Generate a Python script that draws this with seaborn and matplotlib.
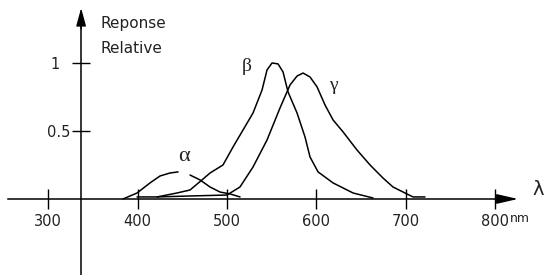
import numpy as np
import pandas as pd
import seaborn as sns
import matplotlib
matplotlib.use("Agg")
import matplotlib.pyplot as plt

# ---- data ----
alpha_lam_a = [383.6, 399.3, 413.8, 425.0, 436.2, 445.2]
alpha_val_a = [0.0, 0.044, 0.118, 0.169, 0.191, 0.199]
alpha_lam_b = [458.6, 469.8, 481.0, 492.2, 503.4, 514.6]
alpha_val_b = [0.176, 0.140, 0.088, 0.051, 0.037, 0.015]

beta_lam = [399.3, 421.7, 444.0, 458.6, 472.0, 481.0, 495.5, 506.7, 517.9, 529.1,
            539.2, 544.8, 550.4, 557.1, 562.7, 568.3, 578.4, 587.3, 592.9, 601.9,
            618.7, 641.1, 663.5]
beta_val = [0.015, 0.015, 0.044, 0.066, 0.140, 0.191, 0.250, 0.382, 0.507, 0.632,
            0.801, 0.949, 1.000, 0.993, 0.934, 0.787, 0.632, 0.456, 0.309, 0.199,
            0.118, 0.044, 0.007]

gamma_lam = [421.7, 458.6, 499.9, 514.5, 529.1, 544.8, 559.3, 570.5, 578.4, 585.1,
             592.9, 600.8, 609.7, 618.7, 629.9, 645.5, 660.1, 674.6, 685.8, 699.2,
             708.2, 721.6]
gamma_val = [0.015, 0.022, 0.029, 0.088, 0.235, 0.434, 0.669, 0.838, 0.904, 0.926,
             0.897, 0.824, 0.691, 0.581, 0.493, 0.360, 0.250, 0.154, 0.088, 0.044,
             0.015, 0.015]

x_ticks = [300, 400, 500, 600, 700, 800]
y_ticks = [0.5, 1.0]
y_tick_labels = ["0.5", "1"]

frames = [
    pd.DataFrame({"lam": alpha_lam_a, "val": alpha_val_a, "seg": "alpha_a"}),
    pd.DataFrame({"lam": alpha_lam_b, "val": alpha_val_b, "seg": "alpha_b"}),
    pd.DataFrame({"lam": beta_lam, "val": beta_val, "seg": "beta"}),
    pd.DataFrame({"lam": gamma_lam, "val": gamma_val, "seg": "gamma"}),
]
df = pd.concat(frames, ignore_index=True)

sns.set_style("white")
plt.rcParams["font.family"] = ["DejaVu Sans"]

fig = plt.figure(figsize=(5.49, 2.75), dpi=100)
ax = fig.add_axes([0, 0, 1, 1])

sns.lineplot(data=df, x="lam", y="val", units="seg", estimator=None, sort=False,
             color="black", linewidth=1.1, ax=ax, legend=False)

ax.set_xlim(245.9, 860.4)
ax.set_ylim(-0.559, 1.463)
ax.set_xlabel("")
ax.set_ylabel("")

yaxis_pos = 336.7
for s in ["top", "right"]:
    ax.spines[s].set_visible(False)
ax.spines["bottom"].set_position(("data", 0))
ax.spines["left"].set_position(("data", yaxis_pos))
ax.spines["bottom"].set_bounds(254.9, 812)
ax.spines["left"].set_bounds(-0.559, 1.32)
for s in ["bottom", "left"]:
    ax.spines[s].set_linewidth(1.1)
    ax.spines[s].set_color("black")

ax.set_xticks(x_ticks)
ax.set_xticklabels([str(t) for t in x_ticks])
ax.set_yticks(y_ticks)
ax.set_yticklabels(y_tick_labels)
ax.tick_params(axis="x", bottom=True, direction="inout", length=15, width=1.0, pad=3,
               labelsize=10.5, colors="black")
ax.tick_params(axis="y", left=True, direction="inout", length=13, width=1.0, pad=1,
               labelsize=10.5, colors="black")
ax.yaxis.get_major_ticks()[1].set_pad(9)
for lab in ax.get_xticklabels() + ax.get_yticklabels():
    lab.set_color("#222222")

# arrow heads
ax.annotate("", xy=(825.6, 0), xytext=(800, 0),
            arrowprops=dict(arrowstyle="-|>,head_length=1.3,head_width=0.3",
                            color="black", lw=1.0, shrinkA=0, shrinkB=0))
ax.annotate("", xy=(yaxis_pos, 1.404), xytext=(yaxis_pos, 1.25),
            arrowprops=dict(arrowstyle="-|>,head_length=1.1,head_width=0.3",
                            color="black", lw=1.0, shrinkA=0, shrinkB=0))

# texts
ax.text(357.9, 1.257, "Reponse", fontsize=11, ha="left", va="baseline", color="#222222")
ax.text(357.9, 1.074, "Relative", fontsize=11, ha="left", va="baseline", color="#222222")
ax.text(827.5, -0.147, "nm", fontsize=9, ha="center", va="center", color="#222222")
ax.text(848.5, 0.066, "λ", fontsize=14, ha="center", va="center", color="#222222")

greek = dict(ha="center", va="center", family="Liberation Serif", color="#222222")
ax.text(452.1, 0.309, "α", fontsize=16, **greek)
ax.text(522.6, 0.971, "β", fontsize=14, **greek)
ax.text(618.6, 0.838, "γ", fontsize=14, **greek)

fig.savefig("out.png", dpi=100)
